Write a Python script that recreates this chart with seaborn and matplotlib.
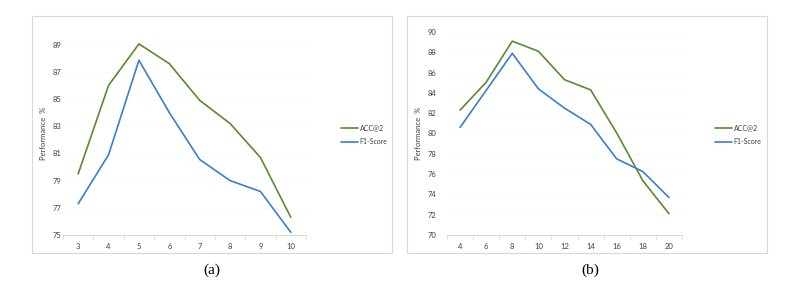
import matplotlib
matplotlib.use("Agg")
import matplotlib.pyplot as plt
from matplotlib.patches import Rectangle
import seaborn as sns
import pandas as pd

# panel (a)
x_a = ["3", "4", "5", "6", "7", "8", "9", "10"]
acc_a = [79.5, 86.0, 89.05, 87.6, 84.9, 83.2, 80.7, 76.3]
f1_a = [77.3, 80.9, 87.85, 84.0, 80.55, 79.0, 78.2, 75.2]

# panel (b)
x_b = ["4", "6", "8", "10", "12", "14", "16", "18", "20"]
acc_b = [82.3, 85.05, 89.1, 88.1, 85.3, 84.3, 80.05, 75.35, 72.1]
f1_b = [80.6, 84.25, 87.9, 84.4, 82.5, 80.9, 77.5, 76.25, 73.7]

series_names = ["ACC@2", "F1-Score"]
colors = {"ACC@2": "#5a8a34", "F1-Score": "#3b7fca"}

sns.set_theme(style="white")
plt.rcParams["font.family"] = ["Lato", "DejaVu Sans"]

fig = plt.figure(figsize=(7.87, 2.84), dpi=100)

# light grey frames around each chart
for x0 in (32 / 787, 407 / 787):
    fig.patches.append(Rectangle((x0, 31 / 284), 360 / 787, 237 / 284,
                                 transform=fig.transFigure, fill=False,
                                 edgecolor="#d9d9d9", linewidth=0.8))


def draw(ax, xs, acc, f1, ylim, yticks, pad, leg_x, caption, cap_x):
    df = pd.DataFrame({
        "x": xs * 2,
        "value": acc + f1,
        "series": [series_names[0]] * len(xs) + [series_names[1]] * len(xs),
    })
    sns.lineplot(data=df, x="x", y="value", hue="series", palette=colors,
                 linewidth=1.2, ax=ax, sort=False)
    n = len(xs)
    ax.set_xlim(-0.5, n - 0.5)
    ax.set_ylim(*ylim)
    ax.set_yticks(yticks)
    ax.set_yticklabels([str(t) for t in yticks])
    ax.set_xticks(range(n))
    ax.set_xticks([i + 0.5 for i in range(-1, n)], minor=True)
    ax.tick_params(axis="x", which="major", length=0, labelsize=5.5,
                   labelcolor="#404040", pad=6)
    ax.tick_params(axis="x", which="minor", length=3, color="#d9d9d9",
                   width=0.6, bottom=True)
    ax.tick_params(axis="y", length=0, labelsize=5.5, labelcolor="#404040",
                   pad=pad)
    for s in ("top", "right", "left"):
        ax.spines[s].set_visible(False)
    ax.spines["bottom"].set_color("#d9d9d9")
    ax.spines["bottom"].set_linewidth(0.8)
    ax.grid(axis="y", color="#f8f8f8", linewidth=0.5)
    ax.set_xlabel("")
    ax.set_ylabel("Performance  %", fontsize=5.5, color="#404040", labelpad=4)
    ax.legend(title=None, loc="center left", bbox_to_anchor=(leg_x, 0.525),
              bbox_transform=fig.transFigure, frameon=False, fontsize=5,
              handlelength=2.4, labelspacing=1.0, borderpad=0,
              borderaxespad=0, handletextpad=0.3, labelcolor="#404040")
    fig.text(cap_x, 14 / 284, caption, ha="center", va="center",
             fontsize=11, family="Liberation Serif", color="#000000")


ax_a = fig.add_axes([63 / 787, 49 / 284, 243 / 787, 204 / 284])
draw(ax_a, x_a, acc_a, f1_a, (75, 90), list(range(75, 90, 2)), 1,
     341 / 787, "(a)", 212 / 787)

ax_b = fig.add_axes([447 / 787, 49 / 284, 235 / 787, 203 / 284])
draw(ax_b, x_b, acc_b, f1_b, (70, 90), list(range(70, 91, 2)), 8,
     715 / 787, "(b)", 590 / 787)

fig.savefig("out.png", dpi=100)
